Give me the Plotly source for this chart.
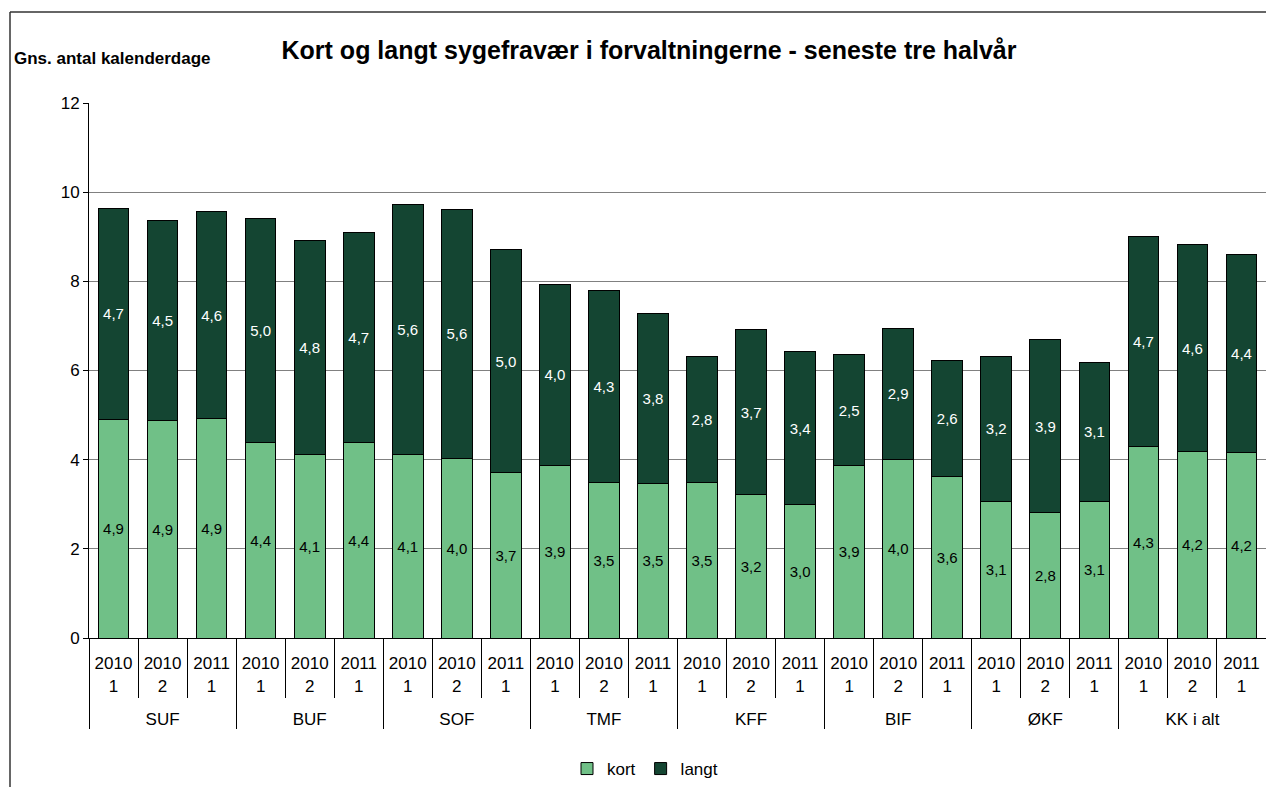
import plotly.graph_objects as go

groups = ["SUF", "BUF", "SOF", "TMF", "KFF", "BIF", "ØKF", "KK i alt"]
periods = ["2010<br>1<br> ", "2010<br>2<br> ", "2011<br>1<br> "]

kort = [4.91, 4.88, 4.92,
        4.38, 4.11, 4.38,
        4.11, 4.03, 3.71,
        3.88, 3.49, 3.46,
        3.49, 3.21, 2.99,
        3.87, 4.01, 3.63,
        3.07, 2.82, 3.06,
        4.30, 4.18, 4.17]
langt = [4.73, 4.48, 4.64,
         5.04, 4.81, 4.71,
         5.61, 5.58, 5.00,
         4.04, 4.31, 3.82,
         2.83, 3.71, 3.44,
         2.48, 2.93, 2.59,
         3.24, 3.87, 3.13,
         4.70, 4.64, 4.44]

x_outer = [g for g in groups for _ in periods]
x_inner = [p for _ in groups for p in periods]

LIGHT = "#70C087"
DARK = "#144532"
FONT = "Liberation Sans, Arial, sans-serif"

fig = go.Figure()
fig.add_trace(go.Bar(
    name="kort", x=[x_outer, x_inner], y=kort,
    marker=dict(color=LIGHT, line=dict(color="#000000", width=1)),
    texttemplate="%{y:.1f}", textposition="inside", insidetextanchor="middle",
    textfont=dict(color="#000000", size=15, family=FONT), textangle=0,
))
fig.add_trace(go.Bar(
    name="langt", x=[x_outer, x_inner], y=langt,
    marker=dict(color=DARK, line=dict(color="#000000", width=1)),
    texttemplate="%{y:.1f}", textposition="inside", insidetextanchor="middle",
    textfont=dict(color="#FFFFFF", size=15, family=FONT), textangle=0,
))

L, R, T, B = 89, 0, 103, 149
W, H = 1266, 787
pw, ph = W - L - R, H - T - B

def px_x(x):
    return (x - L) / pw

def px_y(y):
    return (H - B - y) / ph

fig.update_layout(
    barmode="stack",
    bargap=0.375,
    separators=",.",
    width=W, height=H,
    margin=dict(l=L, r=R, t=T, b=B, pad=0),
    paper_bgcolor="white", plot_bgcolor="white",
    font=dict(family=FONT, size=17, color="#000000"),
    title=dict(
        text="<b>Kort og langt sygefravær i forvaltningerne - seneste tre halvår</b>",
        x=649 / W, xref="container", xanchor="center",
        y=1 - 50 / H, yref="container", yanchor="middle",
        font=dict(size=25, family=FONT, color="#000000"),
    ),
    legend=dict(
        orientation="h", x=px_x(645), xanchor="center",
        y=px_y(769), yanchor="middle",
        font=dict(size=17, family=FONT), traceorder="normal",
        itemwidth=30, bgcolor="rgba(0,0,0,0)",
    ),
    xaxis=dict(
        type="multicategory",
        showline=True, linecolor="#000000", linewidth=1,
        ticks="outside", tickson="boundaries", ticklen=59, tickcolor="#000000",
        showdividers=True, dividercolor="#000000", dividerwidth=1,
        tickfont=dict(size=17, family=FONT),
        ticklabelstandoff=10,
        showgrid=False, fixedrange=True,
    ),
    yaxis=dict(
        range=[0, 12], dtick=2, tick0=0,
        showline=True, linecolor="#000000", linewidth=1,
        ticks="outside", ticklen=5, tickcolor="#000000",
        showgrid=True, gridcolor="#808080", gridwidth=1,
        tickfont=dict(size=17, family=FONT),
        zeroline=False,
    ),
    annotations=[
        dict(text="<b>Gns. antal kalenderdage</b>", xref="paper", yref="paper",
             x=px_x(12), y=px_y(58), xanchor="left", yanchor="middle",
             showarrow=False, font=dict(size=17, family=FONT, color="#000000")),
    ],
    shapes=[
        dict(type="line", xref="paper", yref="paper",
             x0=px_x(10), x1=px_x(1266), y0=px_y(12), y1=px_y(12),
             line=dict(color="#333333", width=1.5)),
        dict(type="line", xref="paper", yref="paper",
             x0=px_x(10), x1=px_x(10), y0=px_y(12), y1=px_y(787),
             line=dict(color="#333333", width=1.5)),
    ],
)

fig.write_html(
    "out.html",
    config={"displayModeBar": False},
    post_script="document.body.style.margin='0';document.body.style.overflow='hidden';",
)
